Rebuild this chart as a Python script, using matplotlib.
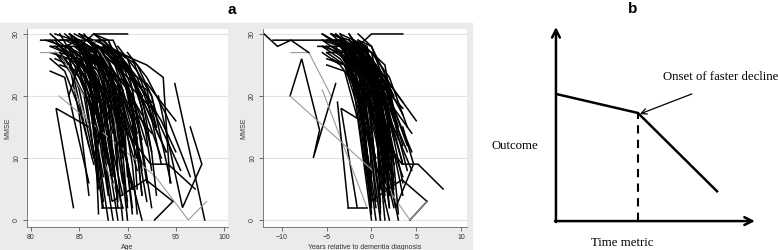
"""
Spaghetti plots of MMSE trajectories (panel a) and a schematic of a
change-point model (panel b).
"""
import matplotlib
matplotlib.use("Agg")
import matplotlib.pyplot as plt
from matplotlib.patches import Rectangle

# --- panel a data: one entry per subject -------------------------------------
# age at dementia diagnosis, ages at the visits and the MMSE at those visits
dx_age = [
    87.5, 86.5, 89.5, 87.0, 86.5, 88.5, 88.0, 89.0, 90.0, 83.5,
    89.0, 88.0, 84.5, 92.0, 86.5, 87.0, 90.0, 88.5, 87.5, 88.0,
    90.0, 88.0, 86.5, 84.0, 93.0, 86.5, 91.0, 84.5, 88.5, 88.0,
    89.5, 91.0, 85.0, 90.5, 86.0, 84.0, 89.0, 88.0, 86.0, 91.0,
    87.0, 88.5, 86.5, 90.0, 89.5, 86.0, 87.5, 86.0, 90.5, 86.5,
    90.0, 90.0, 92.0, 86.5, 94.0, 86.0, 93.0, 95.0, 93.0, 89.0,
    88.5, 88.5, 90.0, 90.0, 90.0, 92.0, 89.0, 88.0, 87.5, 87.0,
    91.0, 85.0, 89.5, 91.0, 87.0, 88.0, 90.0, 86.0, 92.0, 91.0,
    93.0, 92.5, 87.0, 88.5, 86.0, 89.5, 90.5, 85.0, 88.0, 87.5,
    89.0, 91.0, 86.5, 88.0, 90.0, 84.0, 87.0, 89.5, 88.5, 86.0,
    90.0, 92.0, 87.5, 85.5, 88.0, 89.0, 91.0, 89.0, 90.0, 88.0,
    87.0, 91.0, 89.5,
]
visit_age = [
    [82.0, 84.0, 86.0, 88.0], [83.5, 85.5, 87.5, 89.0], [84.0, 86.0, 88.0, 89.5, 90.5],
    [85.0, 87.0, 89.0, 91.0], [81.5, 83.5, 85.0, 86.5], [86.0, 88.0, 90.0, 92.0],
    [83.0, 85.0, 86.5, 88.0], [87.5, 89.0, 91.0, 93.0], [85.0, 87.0, 88.5, 90.0],
    [82.0, 83.5, 84.5, 86.0], [83.0, 85.0, 87.0, 88.5], [86.0, 88.0, 89.5, 91.5],
    [82.5, 84.0, 86.0, 87.0], [87.0, 89.0, 90.5, 92.0], [84.5, 86.5, 88.0, 89.0],
    [82.5, 84.0, 85.5, 87.5], [88.0, 90.0, 92.0, 94.0], [84.0, 85.5, 87.0, 89.0],
    [85.5, 87.5, 89.0, 90.0], [83.5, 85.0, 86.5, 88.5], [84.5, 86.5, 88.5, 90.5, 91.0],
    [86.5, 88.0, 90.0, 91.0], [84.0, 86.0, 87.5, 88.5], [82.0, 84.0, 85.0, 86.0],
    [88.0, 90.0, 91.5, 93.5], [85.0, 86.5, 88.0, 90.0], [86.5, 88.0, 89.5, 91.0],
    [83.0, 84.5, 86.0, 87.5], [83.5, 85.5, 87.0, 88.0], [86.0, 88.0, 90.0, 91.5],
    [84.0, 86.0, 88.0, 89.0], [89.0, 91.0, 92.5, 94.5], [82.5, 84.5, 86.5, 87.5],
    [85.0, 87.0, 89.0, 90.5], [84.5, 86.0, 87.5, 89.5], [82.0, 83.5, 85.5, 86.5],
    [87.0, 88.5, 90.5, 92.5], [85.5, 87.0, 88.5, 89.5], [83.5, 85.0, 87.0, 88.5],
    [85.5, 87.5, 89.5, 90.5], [83.5, 85.0, 86.0, 87.5], [85.0, 86.5, 88.0, 89.5],
    [84.5, 86.0, 87.0, 88.0], [86.0, 87.5, 89.0, 90.0], [87.5, 89.0, 90.5, 91.5],
    [82.5, 84.0, 85.0, 86.0], [85.5, 87.0, 88.5, 89.0], [84.0, 85.5, 86.5, 87.0],
    [88.5, 90.0, 91.0, 92.5], [85.0, 86.5, 87.5, 88.0], [87.0, 88.5, 89.5, 90.0],
    [81.0, 83.0, 85.5], [81.0, 88.5, 90.0], [85.0, 86.5, 90.0],
    [82.0, 83.5, 85.0, 87.0], [86.0, 82.6, 84.4], [83.9, 85.2, 87.2, 86.5, 89.0],
    [94.9, 98.0], [93.2, 95.7, 97.7, 96.5], [86.0, 90.0, 92.4, 94.2, 97.0],
    [86.0, 88.4, 91.9, 94.7], [92.8, 94.7], [84.5, 89.5], [87.4, 86.2],
    [87.4, 89.5], [82.9, 92.9, 96.3, 98.2], [86.5, 88.0, 89.0, 90.0],
    [87.0, 89.0, 90.5, 91.0], [84.0, 86.5, 87.5, 88.5], [85.5, 87.5, 88.5, 89.5],
    [88.0, 89.5, 91.0, 92.0], [83.0, 85.5, 86.5, 87.0], [86.0, 88.5, 90.0, 91.5],
    [89.5, 91.5, 92.5, 93.0], [82.5, 84.5, 86.0, 87.5], [83.0, 85.0, 87.0, 89.5],
    [84.5, 87.0, 89.0, 91.5], [82.0, 84.0, 86.0, 87.0], [89.0, 92.0, 93.7, 94.4],
    [88.0, 90.5, 92.0, 93.5], [90.0, 92.0, 94.0, 96.5], [89.5, 91.5, 93.5, 95.0],
    [84.0, 86.0, 87.5, 89.0], [85.0, 87.0, 89.0, 91.0], [83.0, 85.0, 86.5, 88.5],
    [86.5, 88.5, 90.0, 91.5], [86.5, 89.0, 91.0, 92.5], [82.5, 84.5, 86.0, 87.5],
    [85.5, 87.5, 89.0, 90.5], [84.5, 86.5, 88.0, 89.0], [86.0, 88.0, 89.5, 91.0],
    [87.5, 90.0, 91.5, 92.5], [84.0, 85.5, 87.0, 88.0], [84.5, 87.0, 88.5, 89.5],
    [87.0, 89.0, 90.5, 92.0], [82.0, 83.5, 85.0, 86.5], [85.0, 86.5, 88.0, 89.0],
    [86.0, 88.5, 90.5, 91.5], [85.0, 87.5, 89.0, 90.0], [83.5, 85.0, 86.5, 87.0],
    [88.0, 89.5, 90.5, 91.5], [89.0, 91.0, 92.5, 93.0], [83.5, 86.0, 87.5, 88.5],
    [83.0, 84.5, 86.0, 87.0], [86.0, 87.0, 88.5, 89.5], [86.5, 88.0, 89.5, 90.5],
    [88.0, 90.0, 92.0, 93.0], [88.0, 90.0, 92.5], [89.0, 92.0, 95.0],
    [86.0, 89.5, 92.5], [85.0, 88.0, 91.0], [88.5, 92.0, 95.5],
    [87.0, 90.5, 94.0],
]
mmse = [
    [29, 27, 22, 9], [28, 26, 20, 4], [30, 28, 24, 15, 2],
    [27, 25, 19, 8], [29, 28, 21, 10], [29, 27, 22, 12],
    [25, 24, 16, 0], [28, 27, 23, 15], [26, 25, 18, 3],
    [24, 23, 16, 6], [28, 28, 23, 11], [29, 26, 20, 9],
    [27, 24, 19, 13], [27, 27, 21, 6], [29, 27, 25, 17],
    [26, 25, 20, 2], [26, 24, 18, 11], [30, 28, 20, 0],
    [27, 26, 22, 16], [28, 27, 21, 7], [28, 27, 24, 16, 5],
    [29, 28, 22, 13], [26, 24, 17, 8], [27, 26, 19, 12],
    [28, 26, 19, 10], [25, 23, 19, 9], [30, 29, 24, 14],
    [28, 26, 22, 15], [27, 25, 20, 10], [26, 25, 21, 17],
    [29, 28, 26, 19], [27, 25, 20, 6], [28, 26, 23, 18],
    [28, 26, 22, 1], [29, 27, 18, 4], [28, 27, 23, 20],
    [29, 27, 23, 19], [28, 25, 20, 12], [26, 26, 22, 14],
    [27, 25, 21, 16], [29, 28, 24, 3], [30, 29, 23, 0],
    [28, 26, 21, 5], [29, 27, 20, 2], [28, 26, 18, 4],
    [27, 25, 17, 4], [27, 26, 22, 8], [29, 28, 19, 1],
    [27, 25, 17, 2], [30, 28, 24, 13], [28, 26, 21, 7],
    [27, 27, 20], [29, 29, 24], [28, 30, 30],
    [30, 28, 29, 27], [15, 18, 2], [20, 26, 14.5, 10, 22],
    [22, 0], [20, 2, 9, 15], [25, 14, 9, 9, 5],
    [26, 3, 6.5, 3], [0, 3], [21, 2], [2, 19],
    [2, 2], [20, 7, 0, 3], [29, 25, 12, 0],
    [28, 23, 9, 1], [30, 24, 10, 0], [28, 20, 8, 2],
    [29, 24, 12, 3], [27, 22, 11, 5], [27, 21, 9, 0],
    [26, 20, 11, 4], [30, 29, 27, 25], [29, 29, 27, 21],
    [30, 28, 27, 20], [28, 28, 25, 19], [27, 25, 23, 6],
    [28, 26, 20, 9], [27, 23, 17, 7], [26, 21, 16, 11],
    [28, 25, 21, 12], [29, 27, 21, 10], [27, 26, 20, 6],
    [28, 27, 22, 8], [30, 27, 21, 11], [29, 25, 19, 7],
    [30, 26, 18, 5], [27, 22, 15, 3], [26, 24, 17, 10],
    [29, 25, 18, 8], [28, 23, 14, 4], [27, 24, 16, 6],
    [28, 25, 20, 14], [26, 24, 18, 9], [29, 27, 19, 2],
    [29, 26, 19, 4], [28, 24, 15, 0], [26, 23, 19, 16],
    [27, 24, 18, 13], [28, 24, 20, 17], [30, 27, 22, 18],
    [30, 26, 20, 8], [29, 26, 20, 10], [27, 22, 13, 5],
    [26, 23, 21, 15], [24, 22, 18], [25, 22, 16],
    [27, 20, 14], [28, 24, 12], [27, 20, 8],
    [29, 23, 11],
]
gray_subjects = [51, 62, 65, 66]

mmse_ticks = [0, 10, 20, 30]
age_ticks = [80, 85, 90, 95, 100]
year_ticks = [-10, -5, 0, 5, 10]

# --- panel b: schematic change-point model ------------------------------------
sketch_time = [0.0, 4.12, 8.14]
sketch_outcome = [6.55, 5.57, 1.49]
onset_time, onset_outcome = 4.12, 5.57

W, H = 778, 250
STATA_BG = "#ebebeb"
TICK_FONT = {"family": "Liberation Sans", "size": 5, "color": "#333333"}


def stata_axes(rect, xlim, xticks, xlabel):
    ax = fig.add_axes([rect[0] / W, 1 - rect[3] / H, (rect[2] - rect[0]) / W,
                       (rect[3] - rect[1]) / H])
    ax.set_facecolor("white")
    ax.set_xlim(*xlim)
    ax.set_ylim(-1.13, 30.8)
    ax.set_xticks(xticks)
    ax.set_yticks(mmse_ticks)
    ax.set_xticklabels([f"{t:g}".replace("-", "\u2212") for t in xticks], fontdict=TICK_FONT)
    ax.set_yticklabels([str(t) for t in mmse_ticks], fontdict=TICK_FONT, rotation=90, va="center")
    ax.tick_params(length=3, width=0.6, color="#555555", pad=2)
    ax.yaxis.grid(True, color="#e2e2e2", lw=0.8)
    ax.set_axisbelow(True)
    for s in ("top", "right"):
        ax.spines[s].set_visible(False)
    for s in ("left", "bottom"):
        ax.spines[s].set_color("#666666")
        ax.spines[s].set_linewidth(0.6)
    ax.set_ylabel("MMSE", fontdict=TICK_FONT, labelpad=1)
    ax.set_xlabel(xlabel, fontdict=TICK_FONT, labelpad=2)
    return ax


fig = plt.figure(figsize=(W / 100, H / 100), dpi=100)
fig.patches.append(Rectangle((0, 0), 472 / W, 1 - 23 / H, transform=fig.transFigure,
                             color=STATA_BG, zorder=-5))

ax_age = stata_axes((27, 29, 228, 227), (79.59, 100.41), age_ticks, "Age")
ax_dx = stata_axes((263, 29, 467, 227), (-12.12, 10.67), year_ticks,
                   "Years relative to dementia diagnosis")

for i, (d, ages, score) in enumerate(zip(dx_age, visit_age, mmse)):
    gray = i in gray_subjects
    style = dict(color="#9a9a9a" if gray else "black", lw=0.8 if gray else 1.1,
                 solid_joinstyle="miter")
    ax_age.plot(ages, score, **style)
    ax_dx.plot([a - d for a in ages], score, **style)

# panel b
ax_b = fig.add_axes([470 / W, 0, 308 / W, 1])
ax_b.axis("off")
ax_b.set_xlim(-4.32, 11.16)
ax_b.set_ylim(-1.49, 11.39)
axis_arrow = dict(arrowstyle="->", lw=1.8, color="black", mutation_scale=14,
                  shrinkA=0, shrinkB=0)
ax_b.annotate("", xy=(0, 10), xytext=(0, -0.05), arrowprops=axis_arrow)
ax_b.annotate("", xy=(10, 0), xytext=(-0.05, 0), arrowprops=axis_arrow)
ax_b.plot(sketch_time, sketch_outcome, color="black", lw=1.8, solid_capstyle="butt")
ax_b.plot([onset_time, onset_time], [0, onset_outcome], color="black", lw=1.5,
          ls=(0, (4, 3)))
ax_b.annotate("", xy=(onset_time + 0.1, onset_outcome - 0.05), xytext=(6.83, 6.55),
              arrowprops=dict(arrowstyle="->", lw=0.9, color="black", shrinkA=0, shrinkB=0))
serif = {"family": "Liberation Serif", "size": 9.2}
ax_b.text(5.38, 7.42, "Onset of faster decline", fontdict=serif, ha="left", va="center")
ax_b.text(-3.22, 3.87, "Outcome", fontdict=serif, ha="left", va="center")
ax_b.text(3.32, -1.13, "Time metric", fontdict=serif, ha="center", va="center")

bold = {"family": "Liberation Sans", "size": 11, "weight": "bold"}
fig.text(232 / W, 1 - 10 / H, "a", fontdict=bold, ha="center", va="center")
fig.text(633 / W, 1 - 9 / H, "b", fontdict=bold, ha="center", va="center")

fig.savefig("out.png", dpi=100)
